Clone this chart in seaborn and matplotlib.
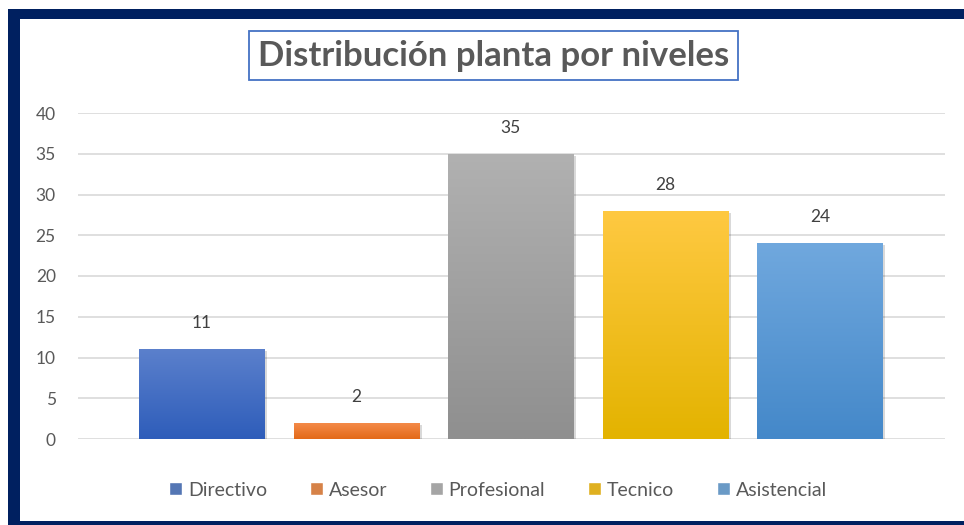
import numpy as np
import seaborn as sns
import matplotlib.pyplot as plt
import matplotlib.patheffects as pe
from matplotlib.patches import Rectangle
from matplotlib.colors import LinearSegmentedColormap

# datos
niveles = ['Directivo', 'Asesor', 'Profesional', 'Tecnico', 'Asistencial']
cantidad = [11, 2, 35, 28, 24]

# colores (arriba / abajo del degradado)
color_sup = ['#5B80CC', '#F58C4C', '#B1B1B1', '#FFC942', '#70A8DE']
color_inf = ['#2E5DBA', '#E36A18', '#8F8F8F', '#E3B300', '#4488C9']
color_leyenda = ['#4472C4', '#ED7D31', '#A5A5A5', '#FFC000', '#5B9BD5']

sns.set_style('white')
plt.rcParams['font.family'] = ['Lato', 'DejaVu Sans']

W, H = 964, 525
fig = plt.figure(figsize=(W / 100, H / 100), dpi=100)
fig.patch.set_facecolor('white')

# marco azul oscuro (sin borde derecho visible)
fig.add_artist(Rectangle((8 / W, 0), 1 - 8 / W, 516 / H, transform=fig.transFigure,
                         facecolor='#002060', edgecolor='none', zorder=0))
fig.add_artist(Rectangle((20 / W, 4 / H), 1 - 20 / W, 502 / H, transform=fig.transFigure,
                         facecolor='white', edgecolor='none', zorder=0))

ax = fig.add_axes([78 / W, (H - 439) / H, (945 - 78) / W, (439 - 113) / H])
ax.set_facecolor('none')

sns.barplot(x=niveles, y=cantidad, hue=niveles, palette=color_leyenda,
            width=0.81, legend=True, ax=ax, zorder=3)

ax.set_yticks(range(0, 41, 5))
ax.yaxis.grid(True, color='#D9D9D9', linewidth=1.2, zorder=0)
ax.set_axisbelow(True)
for s in ax.spines.values():
    s.set_visible(False)
ax.tick_params(axis='y', length=0, pad=16, labelsize=12.5, labelcolor='#595959')
ax.set_xticks([])
ax.set_xlabel('')
ax.set_ylabel('')

# degradado en cada barra + sombra
grad = np.linspace(0, 1, 256).reshape(-1, 1)
for i, p in enumerate(ax.patches[:len(niveles)]):
    x0, y0 = p.get_x(), p.get_y()
    w, h = p.get_width(), p.get_height()
    cmap = LinearSegmentedColormap.from_list('g%d' % i, [color_inf[i], color_sup[i]])
    p.set_facecolor('white')
    p.set_edgecolor('none')
    p.set_path_effects([pe.SimplePatchShadow(offset=(2, -1.5), shadow_rgbFace='black',
                                             alpha=0.15), pe.Normal()])
    im = ax.imshow(grad, cmap=cmap, aspect='auto', origin='lower',
                   extent=[x0, x0 + w, y0, y0 + h], zorder=4)
    im.set_clip_path(p)
    ax.text(x0 + w / 2, h + 2.2, str(cantidad[i]), ha='center', va='bottom',
            fontsize=12.5, color='#404040', zorder=5)

ax.set_xlim(-0.80, 4.81)
ax.set_ylim(0, 40)

# leyenda abajo
handles, labels = ax.get_legend_handles_labels()
ax.get_legend().remove()
fig.legend(handles, labels, loc='center', bbox_to_anchor=(498 / W, 1 - 490 / H),
           ncol=5, frameon=False, fontsize=14, labelcolor='#595959',
           handlelength=0.67, handleheight=0.67, handletextpad=0.3,
           columnspacing=2.2)

# titulo con recuadro
fig.text(493.5 / W, 1 - 55.5 / H, 'Distribución planta por niveles',
         ha='center', va='center', fontsize=25, fontweight='bold', color='#595959',
         bbox=dict(boxstyle='square,pad=0.25', facecolor='white',
                   edgecolor='#4472C4', linewidth=1.3))

fig.savefig('out.png', dpi=100)
